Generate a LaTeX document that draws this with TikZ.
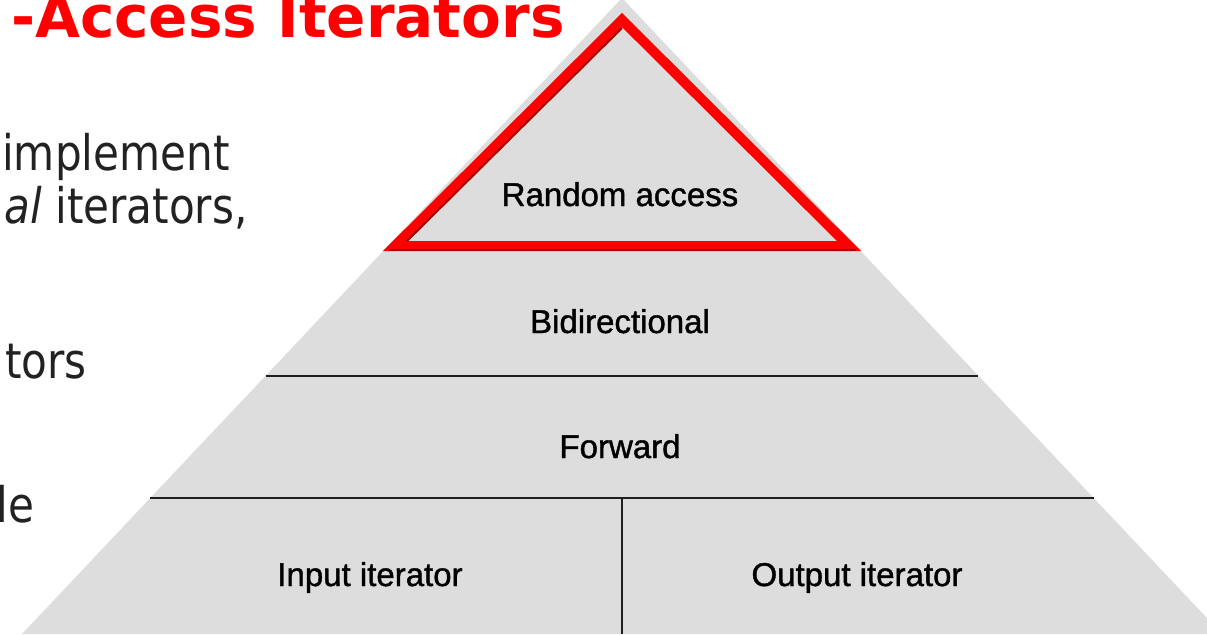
\documentclass[tikz,border=0pt]{standalone}
\usepackage{fontspec}
\usetikzlibrary{calc}
\setmainfont{DejaVu Sans}
\newfontfamily\labelfont[FakeBold=1.2]{Liberation Sans}
\newfontfamily\bodyfont[FakeStretch=0.86]{DejaVu Sans}
\definecolor{layergrey}{HTML}{DDDDDD}
\definecolor{bodygrey}{HTML}{222222}
\definecolor{bevelred}{HTML}{A00000}

\tikzstyle{layer}=[font=\labelfont\fontsize{16.5}{19}\selectfont,anchor=base,inner sep=0pt]
\tikzstyle{bodyline}=[font=\bodyfont\fontsize{24.5}{29}\selectfont,text=bodygrey,anchor=base east,inner sep=0pt]
\tikzstyle{headline}=[font=\bfseries\fontsize{29}{34}\selectfont,text=red,anchor=base east,inner sep=0pt]
\tikzstyle{divider}=[line width=1.2pt,black!88]
\tikzstyle{topbox}=[red,line width=5pt,line join=miter]

\begin{document}
\begin{tikzpicture}[x=0.5pt,y=-0.5pt]
	\useasboundingbox (0,0) rectangle (1207,634);
	\clip (0,0) rectangle (1207,634);
	%Title and body text
	\node[headline] (title) at (565,37) {-Access Iterators};
	\foreach \pos/\name/\txt in {{(230,170)/impl/implement}, {(248,223)/iter/\textit{al} iterators,},
								{(87,378)/tors/tors}, {(35,522)/le/le}}
		\node[bodyline] (\name) at \pos {\txt};
	%Pyramid
	\coordinate (apex) at (622,-2);
	\coordinate (bl) at (22,634);
	\coordinate (br) at (1222,634);
	\fill[layergrey] (apex) -- (bl) -- (br) -- cycle;
	%Dividers
	\foreach \t/\name in {0.594/bf, 0.786/fi}
	{
		\coordinate (\name-l) at ($(apex)!\t!(bl)$);
		\coordinate (\name-r) at ($(apex)!\t!(br)$);
		\draw[divider] (\name-l) -- (\name-r);
	}
	\coordinate (split) at ($(fi-l)!0.5!(fi-r)$);
	\coordinate (split-end) at (split |- bl);
	\draw[divider] (split) -- (split-end);
	%Top layer
	\coordinate (ra-top) at (622,20);
	\coordinate (ra-l) at (395,246);
	\coordinate (ra-r) at (849,246);
	\draw[topbox] (ra-top) -- (ra-l) -- (ra-r) -- cycle;
	\coordinate (bev-top) at (622,28);
	\coordinate (bev-l) at (407,241);
	\coordinate (bev-a) at (389,250);
	\coordinate (bev-b) at (856,250);
	\draw[bevelred,line width=1pt] (bev-top) -- (bev-l);
	\draw[bevelred,line width=1.2pt] (bev-a) -- (bev-b);
	%Labels
	\foreach \pos/\name/\txt in {{(620,206)/ra/Random access}, {(620,333)/bidi/Bidirectional},
								{(620,458)/fwd/Forward}, {(370,586)/inp/Input iterator},
								{(857,586)/outp/Output iterator}}
		\node[layer] (\name) at \pos {\txt};
\end{tikzpicture}
\end{document}
